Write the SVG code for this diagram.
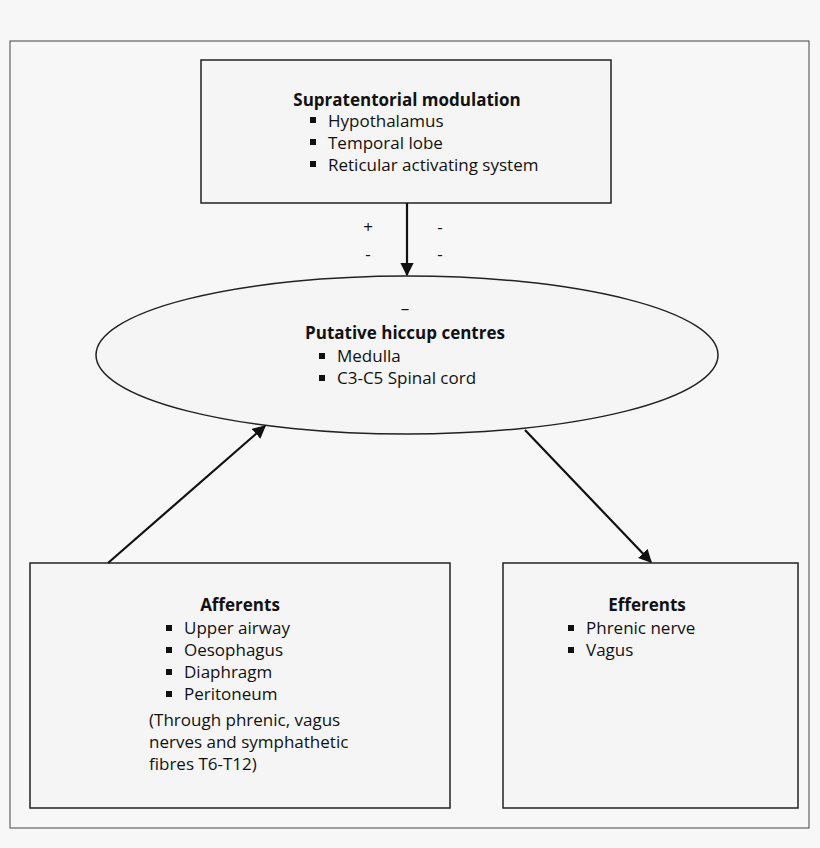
<svg xmlns="http://www.w3.org/2000/svg" width="820" height="848" viewBox="0 0 820 848">
<style>
text{font-family:"Open Sans","DejaVu Sans",sans-serif;font-size:17px;fill:#111}
.b{font-weight:bold}
.s{fill:#f5f5f5;stroke:#222;stroke-width:1.5}
.c{stroke:#111;stroke-width:2.2;fill:none}
.sq{fill:#111}
</style>
<defs><marker id="a" viewBox="0 0 10 10" refX="9" refY="5" markerWidth="6" markerHeight="6" orient="auto"><path d="M0,0L10,5L0,10z" fill="#111"/></marker></defs>
<rect width="820" height="848" fill="#f7f7f7"/>
<rect x="10" y="41" width="799" height="787" fill="#f7f7f7" stroke="#444" stroke-width="1"/>
<g id="top"><rect class="s" x="201" y="60" width="410" height="143"/>
<text class="b" x="407" y="106" text-anchor="middle">Supratentorial modulation</text>
<rect class="sq" x="310" y="117" width="6" height="6"/><text x="328" y="127">Hypothalamus</text>
<rect class="sq" x="310" y="139" width="6" height="6"/><text x="328" y="149">Temporal lobe</text>
<rect class="sq" x="310" y="161" width="6" height="6"/><text x="328" y="171">Reticular activating system</text></g>
<g id="centre"><ellipse class="s" cx="407" cy="355" rx="311" ry="79"/>
<text x="405" y="314" text-anchor="middle">–</text>
<text class="b" x="405" y="339" text-anchor="middle">Putative hiccup centres</text>
<rect class="sq" x="319" y="353" width="6" height="6"/><text x="337" y="362">Medulla</text>
<rect class="sq" x="319" y="375" width="6" height="6"/><text x="337" y="384">C3-C5 Spinal cord</text></g>
<g id="aff"><rect class="s" x="30" y="563" width="420" height="245"/>
<text class="b" x="240" y="611" text-anchor="middle">Afferents</text>
<rect class="sq" x="166" y="625" width="6" height="6"/><text x="184" y="634">Upper airway</text>
<rect class="sq" x="166" y="647" width="6" height="6"/><text x="184" y="656">Oesophagus</text>
<rect class="sq" x="166" y="669" width="6" height="6"/><text x="184" y="678">Diaphragm</text>
<rect class="sq" x="166" y="691" width="6" height="6"/><text x="184" y="700">Peritoneum</text>
<text x="149" y="726">(Through phrenic, vagus</text>
<text x="149" y="748">nerves and symphathetic</text>
<text x="149" y="770">fibres T6-T12)</text></g>
<g id="eff"><rect class="s" x="503" y="563" width="295" height="245"/>
<text class="b" x="647" y="611" text-anchor="middle">Efferents</text>
<rect class="sq" x="568" y="625" width="6" height="6"/><text x="586" y="634">Phrenic nerve</text>
<rect class="sq" x="568" y="647" width="6" height="6"/><text x="586" y="656">Vagus</text></g>
<g id="connectors">
<line class="c" x1="407" y1="203" x2="407" y2="275" marker-end="url(#a)"/>
<line class="c" x1="108" y1="563" x2="265" y2="426" marker-end="url(#a)"/>
<line class="c" x1="525" y1="430" x2="651" y2="562" marker-end="url(#a)"/>
<text x="368" y="233" text-anchor="middle">+</text>
<text x="368" y="260" text-anchor="middle">-</text>
<text x="440" y="233" text-anchor="middle">-</text>
<text x="440" y="260" text-anchor="middle">-</text>
</g>
</svg>
